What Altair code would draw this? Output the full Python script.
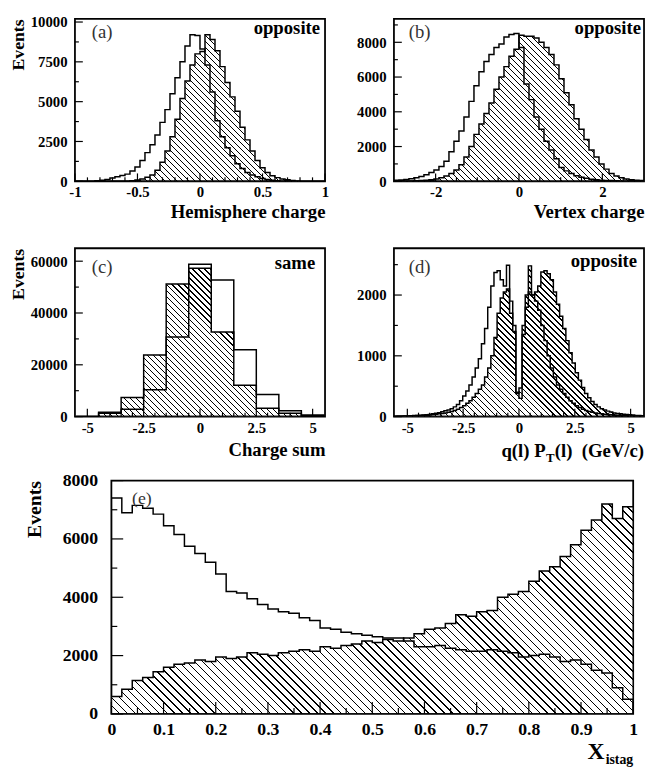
import altair as alt
import numpy as np
import pandas as pd

SERIF = "Liberation Serif"

# ---------------- data ----------------
# (a) Hemisphere charge: 50 bins of width 0.04 on [-1, 1]
a_lo, a_bw = -1.0, 0.04
a_open = [0, 0, 0, 10, 30, 60, 120, 200, 280, 360, 450, 650, 900, 1300, 1800,
          2300, 2900, 3700, 4500, 5500, 6500, 7500, 8500, 9200, 9150, 8300, 7300,
          5600, 3800, 2800, 2100, 1600, 1100, 800, 550, 400, 280, 180, 110, 70, 40,
          25, 15, 10, 5, 0, 0, 0, 0, 0]
a_hatch = [0, 0, 0, 0, 0, 0, 0, 0, 0, 0, 10, 40, 80, 150, 250, 400, 700, 1200,
           1900, 2800, 3900, 5200, 6300, 7300, 8000, 8150, 9200, 8900, 8200, 7200,
           6200, 5300, 4400, 3400, 2600, 1900, 1300, 850, 550, 350, 230, 150, 90,
           50, 25, 10, 0, 0, 0, 0]

# (b) Vertex charge: 50 bins of width 0.12 on [-3, 3]
b_lo, b_bw = -3.0, 0.12
b_open = [60, 80, 110, 150, 200, 280, 380, 500, 650, 850, 1150, 1700, 2300, 2900,
          3700, 4600, 5500, 6300, 6900, 7300, 7700, 7900, 8300, 8450, 8500, 7700,
          5600, 4700, 3700, 3000, 2300, 1800, 1300, 800, 600, 450, 320, 230, 170,
          120, 90, 60, 50, 40, 30, 20, 15, 10, 5, 5]
b_hatch = [10, 10, 15, 20, 30, 40, 60, 90, 130, 200, 300, 450, 650, 950, 1400,
           2000, 2700, 3300, 3900, 4500, 5300, 6000, 6600, 7200, 7600, 8400, 8350,
           8350, 8250, 8000, 7700, 7300, 6700, 5900, 5100, 4400, 3600, 3000, 2400,
           1800, 1400, 1000, 700, 450, 300, 200, 130, 90, 60, 40]

# (c) Charge sum: 11 bins of width 1 on [-5.5, 5.5]
c_lo, c_bw = -5.5, 1.0
c_open = [0, 1650, 2800, 10400, 30700, 58800, 52700, 25800, 8500, 2300, 600]
c_hatch = [0, 1300, 7400, 23800, 51200, 57300, 32700, 12100, 3200, 1300, 0]

# (d) q(l) P_T(l): 80 bins of width 0.14 on [-5.6, 5.6]
d_lo, d_bw = -5.6, 0.14
d_open = [5, 8, 10, 10, 12, 15, 18, 20, 22, 25, 30, 35, 45, 55, 65,
          80, 95, 110, 130, 160, 200, 260, 340, 420, 520, 650, 800, 950, 1200, 1450,
          1800, 2150, 2370, 2400, 2250, 2150, 2490, 1900, 1500, 400,
          300, 1350, 1800, 2050, 2000, 1900, 1750, 1500, 1250, 1000,
          800, 650, 520, 450, 380, 320, 260, 220, 180, 150,
          120, 100, 85, 70, 60, 50, 45, 40, 35, 30, 25, 22, 20, 18, 15, 12, 10, 8, 6, 5]
d_hatch = [5, 5, 6, 8, 10, 12, 15, 18, 20, 22, 25, 30, 35, 40, 45,
           50, 60, 70, 85, 100, 120, 150, 180, 220, 260, 320, 380, 450, 520, 650,
           800, 1000, 1300, 1700, 1950, 2050, 2100, 1700, 1400, 380,
           470, 1500, 2000, 2480, 2000, 2050, 2150, 2380, 2400, 2350,
           2250, 2050, 1850, 1650, 1450, 1250, 1050, 880, 720, 600,
           480, 380, 310, 250, 200, 160, 130, 110, 90, 75, 60, 50, 45, 40, 35, 30, 25, 20, 20, 15]

# (e) X_istag: 50 bins of width 0.02 on [0, 1]
e_lo, e_bw = 0.0, 0.02
e_open = [7400, 6900, 7150, 7050, 6850, 6450, 6150, 5750, 5500, 5200, 4800, 4200,
          4150, 3950, 3750, 3600, 3500, 3450, 3300, 3200, 2950, 2900, 2800, 2750,
          2700, 2650, 2600, 2600, 2500, 2300, 2300, 2350, 2250, 2200, 2150, 2150,
          2200, 2150, 2100, 1950, 2000, 2050, 1950, 1800, 1850, 1700, 1500, 1400,
          900, 500]
e_hatch = [600, 850, 1150, 1250, 1450, 1600, 1700, 1750, 1850, 1800, 1950, 1900,
           1950, 2100, 2050, 2000, 2100, 2150, 2200, 2150, 2300, 2250, 2350, 2400,
           2500, 2450, 2550, 2500, 2600, 2750, 2900, 2950, 3100, 3400, 3350, 3500,
           3550, 4000, 4100, 4200, 4550, 4900, 5050, 5400, 5800, 6300, 6650, 7200,
           6700, 7100]

# axis tick values
a_xlab = [-1, -0.5, 0, 0.5, 1]
a_xmin = [-0.9, -0.8, -0.7, -0.6, -0.4, -0.3, -0.2, -0.1, 0.1, 0.2, 0.3, 0.4, 0.6, 0.7, 0.8, 0.9]
a_ylab = [0, 2500, 5000, 7500, 10000]
a_ymin = [1250, 3750, 6250, 8750]
b_xlab = [-2, 0, 2]
b_xmin = [-2.5, -1.5, -1, -0.5, 0.5, 1, 1.5, 2.5]
b_ylab = [0, 2000, 4000, 6000, 8000]
b_ymin = [1000, 3000, 5000, 7000, 9000]
c_xlab = [-5, -2.5, 0, 2.5, 5]
c_xmin = [-4.5, -4, -3.5, -3, -2, -1.5, -1, -0.5, 0.5, 1, 1.5, 2, 3, 3.5, 4, 4.5]
c_ylab = [0, 20000, 40000, 60000]
c_ymin = [10000, 30000, 50000]
d_ylab = [0, 1000, 2000]
d_ymin = [500, 1500, 2500]
e_xlab = [0, 0.1, 0.2, 0.3, 0.4, 0.5, 0.6, 0.7, 0.8, 0.9, 1]
e_xmin = [0.05, 0.15, 0.25, 0.35, 0.45, 0.55, 0.65, 0.75, 0.85, 0.95]
e_ylab = [0, 2000, 4000, 6000, 8000]
e_ymin = [1000, 3000, 5000, 7000]

MINUS = "replace(datum.label, '\u2212', '-')"


def hatch_fill(wb, hb, sp, lw=1.0):
    """Diagonal hatching built as a striped linear gradient over the area's bbox."""
    r = hb / wb
    k = (1.0 + r) / (1.0 + r * r)
    D = (wb + hb) / np.sqrt(2.0)
    per = sp / D
    blk = lw / D
    stops = []
    t = 0.0
    while t < 1.0 - 1e-9:
        t1 = min(t + blk, 1.0)
        t2 = min(t + per, 1.0)
        for off, col in ((t, "black"), (t1, "black"), (t1, "white"), (t2, "white")):
            stops.append(alt.GradientStop(offset=round(off, 6), color=col))
        t = t2
    return alt.LinearGradient(gradient="linear", stops=stops,
                              x1=0, y1=1, x2=round(k, 6), y2=round(1 - k * r, 6))


def txt(s, x, y, size, weight="normal", align="left", color="black"):
    return alt.Chart(pd.DataFrame({"s": [s]})).mark_text(
        font=SERIF, fontSize=size, fontWeight=weight, align=align,
        baseline="alphabetic", color=color).encode(
        x=alt.value(x), y=alt.value(y), text="s:N")


def panel(lo, bw, open_vals, hatch_vals, xdom, ydom, W, H, xlab, xmin, ylab, ymin,
          xtitle, ytitle, lab_fs, xt_fs, yt_fs, xlabpad, ylabpad, ytitlepad, xtitlepad,
          tmaj, tmin, sp, texts):
    n = len(open_vals)
    assert len(hatch_vals) == n
    edges = lo + bw * np.arange(n + 1)
    df = pd.DataFrame({"x": edges,
                       "open": list(open_vals) + [open_vals[-1]],
                       "hatch": list(hatch_vals) + [hatch_vals[-1]]})
    xs = alt.Scale(domain=xdom, nice=False, zero=False)
    ys = alt.Scale(domain=ydom, nice=False, zero=False)
    wb = (min(edges[-1], xdom[1]) - max(edges[0], xdom[0])) / (xdom[1] - xdom[0]) * W
    hb = max(hatch_vals) / ydom[1] * H
    xaxis = alt.Axis(values=xlab, format=".3~g", labelExpr=MINUS, title=xtitle,
                     titleAnchor="end", labelFontSize=lab_fs, titleFontSize=xt_fs,
                     labelFontWeight="bold", titleFontWeight="bold",
                     labelPadding=xlabpad, titlePadding=xtitlepad)
    yaxis = alt.Axis(values=ylab, format="d", title=ytitle, titleAnchor="end",
                     labelFontSize=lab_fs, titleFontSize=yt_fs,
                     labelFontWeight="bold", titleFontWeight="bold",
                     labelPadding=ylabpad, titlePadding=ytitlepad)
    X = lambda f: alt.X(f, scale=xs, axis=xaxis)
    Y = lambda f: alt.Y(f, scale=ys, axis=yaxis)
    base = alt.Chart(df)
    hatched = base.mark_area(interpolate="step-after", fill=hatch_fill(wb, hb, sp),
                             stroke="black", strokeWidth=1.5, clip=True).encode(
        x=X("x:Q"), y=Y("hatch:Q"))
    opened = base.mark_area(interpolate="step-after", fill="transparent",
                            stroke="black", strokeWidth=1.5, clip=True).encode(
        x=X("x:Q"), y=Y("open:Q"))
    rule = dict(color="black", strokeWidth=1.2)
    xt1 = alt.Chart(pd.DataFrame({"x": xlab})).mark_rule(**rule).encode(
        x=X("x:Q"), y=alt.value(H), y2=alt.value(H - tmaj))
    xt2 = alt.Chart(pd.DataFrame({"x": xmin})).mark_rule(**rule).encode(
        x=X("x:Q"), y=alt.value(H), y2=alt.value(H - tmin))
    yt1 = alt.Chart(pd.DataFrame({"hatch": ylab})).mark_rule(**rule).encode(
        y=Y("hatch:Q"), x=alt.value(0), x2=alt.value(tmaj))
    yt2 = alt.Chart(pd.DataFrame({"hatch": ymin})).mark_rule(**rule).encode(
        y=Y("hatch:Q"), x=alt.value(0), x2=alt.value(tmin))
    layers = [hatched, opened, xt1, xt2, yt1, yt2] + texts
    return alt.layer(*layers).properties(width=W, height=H)


WT, HT1, HT2 = 254, 165, 171
WE, HE = 530, 237
TAGC = "#333333"
LF, XT, YT = 15, 19, 18

pa = panel(a_lo, a_bw, a_open, a_hatch, [-1, 1], [0, 10200], WT, HT1, a_xlab, a_xmin,
           a_ylab, a_ymin, "Hemisphere charge", "Events", LF, XT, YT, 3, 8, 3, 4, 8, 4, 4.3,
           [txt("(a)", 17, 19, 19, color=TAGC),
            txt("opposite", WT - 5, 15, 19, "bold", "right")])
pb = panel(b_lo, b_bw, b_open, b_hatch, [-3, 3], [0, 9350], WT, HT1, b_xlab, b_xmin,
           b_ylab, b_ymin, "Vertex charge", "", LF, XT, YT, 3, 8, 3, 4, 8, 4, 4.3,
           [txt("(b)", 15, 19, 19, color=TAGC),
            txt("opposite", WT - 3, 15, 19, "bold", "right")])
pc = panel(c_lo, c_bw, c_open, c_hatch, [-5.55, 5.55], [0, 65000], WT, HT2, c_xlab,
           c_xmin, c_ylab, c_ymin, "Charge sum", "Events", LF, XT, YT, 4, 8, 3, 6, 8, 4, 4.3,
           [txt("(c)", 17, 25, 19, color=TAGC),
            txt("same", WT - 10, 21, 19, "bold", "right")])
pd_ = panel(d_lo, d_bw, d_open, d_hatch, [-5.6, 5.6], [0, 2770], WT, HT2, c_xlab,
            c_xmin, d_ylab, d_ymin, "", "", LF, XT, YT, 4, 8, 3, 6, 8, 4, 4.3,
            [txt("(d)", 15, 25, 19, color=TAGC),
             txt("opposite", WT - 7, 19, 19, "bold", "right"),
             txt("(l)\u00a0\u00a0(GeV/c)", WT, HT2 + 41, 19, "bold", "right"),
             txt("T", WT - 91, HT2 + 46, 13, "bold", "right"),
             txt("q(l) P", WT - 100, HT2 + 41, 19, "bold", "right")])
pe = panel(e_lo, e_bw, e_open, e_hatch, [0, 1], [0, 8000], WE, HE, e_xlab, e_xmin,
           e_ylab, e_ymin, "", "Events", 18, 20, 20, 7, 14, 18, 4, 12, 6, 5.7,
           [txt("(e)", 21, 24, 18, color=TAGC),
            txt("istag", WE, HE + 51, 14, "bold", "right"),
            txt("X", WE - 29, HE + 46, 24, "bold", "right")])

spacer = alt.Chart(pd.DataFrame({"v": [0]})).mark_point(opacity=0).encode(
    x=alt.value(0), y=alt.value(0)).properties(
    width=1, height=1, view=alt.ViewBackground(stroke="transparent"))

row1 = alt.hconcat(pa, pb, spacing=70, bounds="flush")
row2 = alt.hconcat(pc, pd_, spacing=70, bounds="flush")
row3 = alt.hconcat(spacer, pe, spacing=36, bounds="flush")
top = alt.vconcat(row1, row2, spacing=25)

chart = alt.vconcat(top, row3, spacing=5).properties(
    padding={"left": 0, "top": 0, "right": 0, "bottom": 0},
    background="white",
).configure_view(
    stroke="black", strokeWidth=1.8
).configure_axis(
    labelFont=SERIF, labelFontWeight="bold", labelColor="black",
    titleFont=SERIF, titleFontWeight="bold", titleColor="black",
    domain=False, ticks=False, grid=False, labelFlush=False, labelOverlap=False,
)

chart.save("out.html", embed_options={"renderer": "svg", "actions": False})
